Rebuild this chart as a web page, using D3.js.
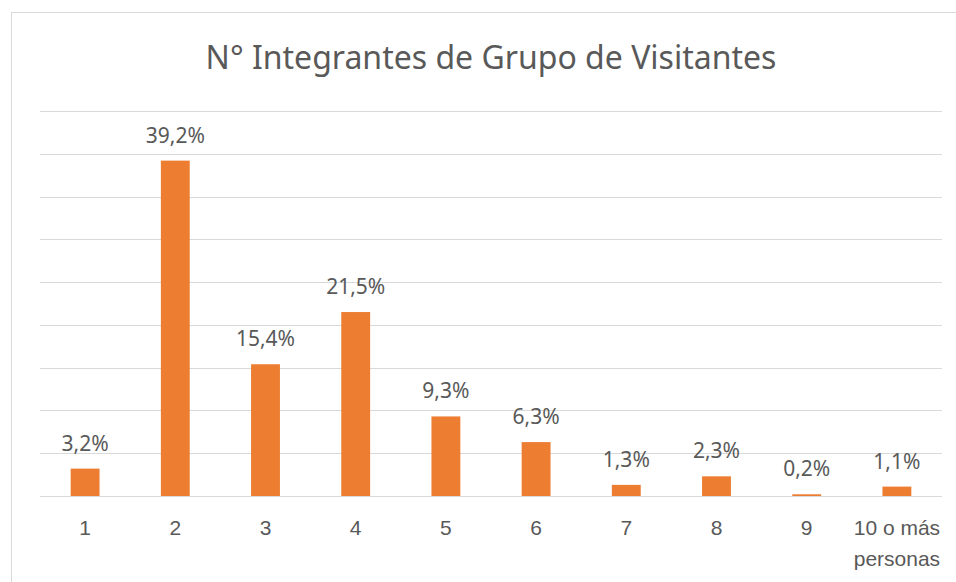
<!DOCTYPE html>
<html>
<head>
<meta charset="utf-8">
<script src="https://cdn.jsdelivr.net/npm/d3@7"></script>
<style>
  html, body { margin: 0; padding: 0; background: #fff; }
  svg { display: block; font-family: "Noto Sans", "Open Sans", sans-serif; }
</style>
</head>
<body>
<div id="chart"></div>
<script>
// N° Integrantes de Grupo de Visitantes — column chart, percentage labels

const categories = ["1", "2", "3", "4", "5", "6", "7", "8", "9", "10 o más personas"];
const shares = [3.2, 39.2, 15.4, 21.5, 9.3, 6.3, 1.3, 2.3, 0.2, 1.1];
const gridSteps = [0, 5, 10, 15, 20, 25, 30, 35, 40, 45];

const width = 956, height = 582;
const margin = { top: 111, right: 14, bottom: 86, left: 40 };
const textColor = "#595959", gridColor = "#d9d9d9", barColor = "#ed7d31";

const svg = d3.select("#chart").append("svg")
  .attr("width", width).attr("height", height);

// chart frame (runs off the right and bottom edge, as in the source)
svg.append("rect")
  .attr("x", 11.5).attr("y", 12.5)
  .attr("width", width + 20).attr("height", height + 20)
  .attr("fill", "#fff").attr("stroke", gridColor);

svg.append("text")
  .attr("x", 491).attr("y", 69)
  .attr("text-anchor", "middle")
  .attr("fill", textColor).attr("font-size", 32)
  .text("N° Integrantes de Grupo de Visitantes");

const x = d3.scaleBand().domain(categories)
  .range([margin.left, width - margin.right])
  .paddingInner(0.68).paddingOuter(0.34);
const y = d3.scaleLinear().domain([0, 45])
  .range([height - margin.bottom, margin.top]);

// gridlines
svg.append("g")
  .selectAll("line").data(gridSteps).join("line")
  .attr("x1", margin.left).attr("x2", width - margin.right)
  .attr("y1", d => Math.round(y(d)) + 0.5).attr("y2", d => Math.round(y(d)) + 0.5)
  .attr("stroke", gridColor).attr("stroke-width", 1);

// bars
svg.append("g")
  .selectAll("rect").data(shares).join("rect")
  .attr("x", (d, i) => x(categories[i]))
  .attr("y", d => y(d))
  .attr("width", x.bandwidth())
  .attr("height", d => y(0) - y(d))
  .attr("fill", barColor);

// value labels
svg.append("g")
  .selectAll("text").data(shares).join("text")
  .attr("x", (d, i) => x(categories[i]) + x.bandwidth() / 2)
  .attr("y", d => y(d) - 18)
  .attr("text-anchor", "middle")
  .attr("fill", textColor).attr("font-size", 21)
  .text(d => d.toFixed(1).replace(".", ",") + "%");

// category axis (no ticks, wrapped labels)
const gX = svg.append("g")
  .attr("transform", `translate(0,${y(0)})`)
  .call(d3.axisBottom(x).tickSize(0).tickPadding(0));
gX.select(".domain").remove();
gX.selectAll(".tick text").remove();
gX.selectAll(".tick").append("text")
  .attr("fill", textColor).attr("font-size", 21)
  .attr("text-anchor", "middle")
  .each(function (d) {
    const words = d.split(" ");
    const lines = words.length > 2 ? [words.slice(0, 3).join(" "), words.slice(3).join(" ")] : [d];
    d3.select(this).selectAll("tspan").data(lines).join("tspan")
      .attr("x", 0)
      .attr("y", (l, i) => 39 + i * 31)
      .text(l => l);
  });
</script>
</body>
</html>
